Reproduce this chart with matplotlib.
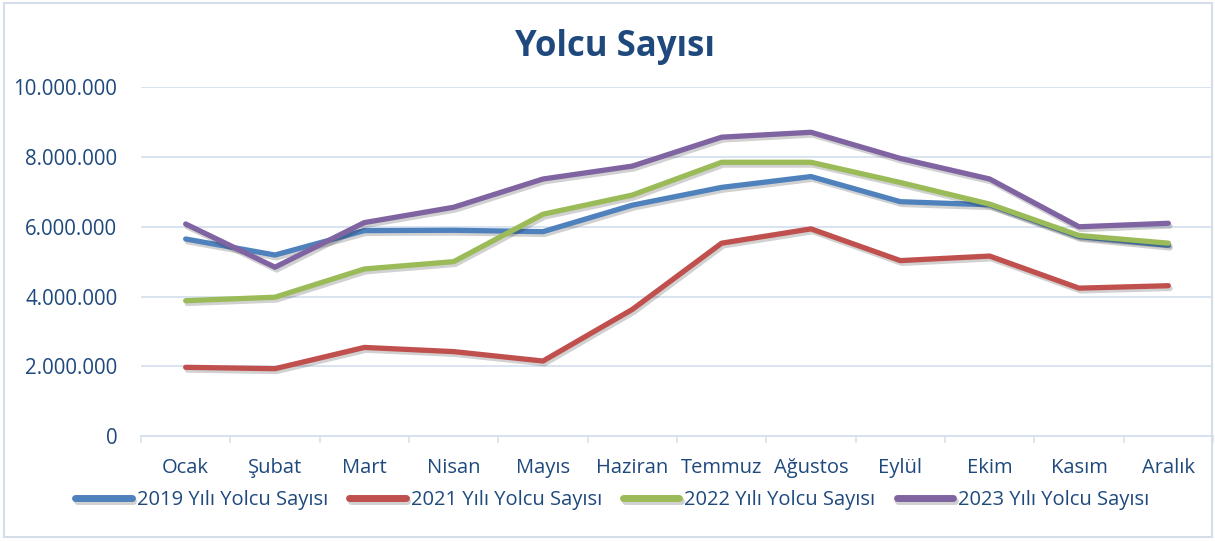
import matplotlib
matplotlib.use("Agg")
import matplotlib.pyplot as plt
import matplotlib.patheffects as pe
from matplotlib.ticker import FuncFormatter, FixedLocator
from matplotlib.patches import Rectangle

months = ["Ocak", "Şubat", "Mart", "Nisan", "Mayıs", "Haziran", "Temmuz",
          "Ağustos", "Eylül", "Ekim", "Kasım", "Aralık"]

y2019 = [5650000, 5190000, 5890000, 5900000, 5860000, 6620000, 7130000,
         7440000, 6720000, 6630000, 5720000, 5470000]
y2021 = [1970000, 1930000, 2540000, 2420000, 2150000, 3630000, 5530000,
         5940000, 5030000, 5160000, 4240000, 4310000]
y2022 = [3880000, 3980000, 4790000, 5000000, 6360000, 6910000, 7850000,
         7850000, 7270000, 6650000, 5750000, 5530000]
y2023 = [6080000, 4840000, 6120000, 6560000, 7370000, 7740000, 8570000,
         8710000, 7960000, 7370000, 6000000, 6100000]

series = [
    ("2019 Yılı Yolcu Sayısı", y2019, "#4F81BD"),
    ("2021 Yılı Yolcu Sayısı", y2021, "#C0504D"),
    ("2022 Yılı Yolcu Sayısı", y2022, "#9BBB59"),
    ("2023 Yılı Yolcu Sayısı", y2023, "#8064A2"),
]

title = "Yolcu Sayısı"
yticks = [0, 2000000, 4000000, 6000000, 8000000, 10000000]

txt_color = "#1F497D"
grid_color = "#D3DFEF"
font = ["Open Sans", "DejaVu Sans"]

plt.rcParams["font.family"] = font

fig = plt.figure(figsize=(12.15, 5.41), dpi=100)
ax = fig.add_axes([141 / 1215, 1 - 436 / 541, (1213 - 141) / 1215, (436 - 87.3) / 541])

x = list(range(len(months)))
for label, vals, color in series:
    ax.plot(x, vals, color=color, lw=3.8, solid_capstyle="round",
            solid_joinstyle="round", label=label,
            path_effects=[pe.SimpleLineShadow(offset=(1.2, -2.0), shadow_color="black", alpha=0.18),
                          pe.Normal()])

ax.set_xlim(-0.5, len(months) - 0.5)
ax.set_ylim(0, 10000000)
ax.set_yticks(yticks)
ax.yaxis.set_major_formatter(FuncFormatter(lambda v, p: f"{int(v):,}".replace(",", ".")))
ax.set_xticks(x)
ax.set_xticklabels(months)
ax.xaxis.set_minor_locator(FixedLocator([i - 0.5 for i in range(len(months) + 1)]))

ax.tick_params(axis="y", length=0, pad=17, labelsize=14.8, labelcolor=txt_color)
ax.tick_params(axis="x", which="major", length=0, pad=16, labelsize=14.5, labelcolor=txt_color)
ax.tick_params(axis="x", which="minor", length=5, width=1.1, color=grid_color)

ax.grid(axis="y", color=grid_color, lw=1.2)
ax.set_axisbelow(True)
for s in ["top", "right", "left"]:
    ax.spines[s].set_visible(False)
ax.spines["bottom"].set_color(grid_color)
ax.spines["bottom"].set_linewidth(1.2)

fig.text(0.506, 1 - 47 / 541, title, ha="center", va="center", fontsize=25,
         fontweight="bold", color=txt_color)

leg = fig.legend(loc="center", bbox_to_anchor=(0.504, 1 - 500 / 541), ncol=4,
                 frameon=False, fontsize=14.5, handlelength=2.8, handletextpad=0.25,
                 columnspacing=1.05, borderpad=0)
for t in leg.get_texts():
    t.set_color(txt_color)
for h in leg.get_lines():
    h.set_linewidth(5)
    h.set_solid_capstyle("round")

fig.patches.append(Rectangle((4 / 1215, 4 / 541), 1208 / 1215, 534 / 541,
                             transform=fig.transFigure, fill=False,
                             edgecolor="#D4DEEB", lw=1.5))

fig.savefig("out.png", dpi=100)
